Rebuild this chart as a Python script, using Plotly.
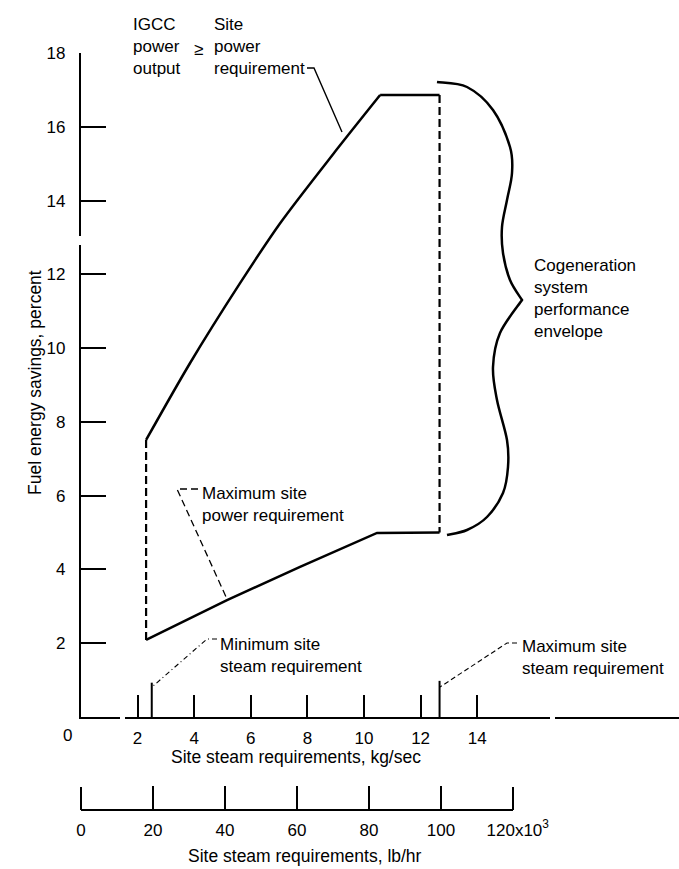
import plotly.graph_objects as go

# ---------------- data ----------------
upper_x = [2.30, 3.85, 5.62, 7.03, 8.90, 10.57, 12.67]
upper_y = [7.51, 9.59, 11.76, 13.38, 15.25, 16.86, 16.86]
lower_x = [2.30, 5.16, 7.74, 10.46, 12.67]
lower_y = [2.09, 3.17, 4.07, 4.99, 5.00]
min_steam_req = 2.5      # kg/sec
max_steam_req = 12.67    # kg/sec
min_marker_h = 0.93
max_marker_h = 0.98
kg_ticks = [2, 4, 6, 8, 10, 12, 14]
kg_labels = ["2", "4", "6", "8", "10", "12", "14"]
lb_ticks = [0, 20000, 40000, 60000, 80000, 100000, 120000]
lb_labels = ["0", "20", "40", "60", "80", "100", "\u2007120x10<sup>3</sup>"]
y_ticks = [2, 4, 6, 8, 10, 12, 14, 16, 18]
y_labels = ["2", "4", "6", "8", "10", "12", "14", "16", "18"]

# ---------------- layout geometry (pixels) ----------------
W, H = 679, 869
L, RE, TOP, Y0PX, BOT = 81, 679, 53, 717, 810
KX = 28.3
XMAX = (RE - L) / KX
KY = (Y0PX - TOP) / 18.0
YDOM0 = (BOT - Y0PX) / (BOT - TOP)
LB_END_PX = 513
LB_DOM = (LB_END_PX - L) / (RE - L)

FONT = "Liberation Sans, Arial, sans-serif"
FS = 17

def dx(px):
    return (px - L) / KX

def dy(py):
    return (Y0PX - py) / KY

def paper_x(px):
    return (px - L) / (RE - L)

def paper_y(py):
    return (BOT - py) / (BOT - TOP)

fig = go.Figure()

line_style = dict(color="black", width=2.5)
curve_style = dict(color="black", width=2.5, shape="spline", smoothing=0.8)
dash_style = dict(color="black", width=2.2, dash="8px,4px")

# upper boundary (curved part + flat top)
fig.add_trace(go.Scatter(x=upper_x[:-1], y=upper_y[:-1], mode="lines", line=curve_style,
                         hoverinfo="skip", showlegend=False))
fig.add_trace(go.Scatter(x=upper_x[-2:], y=upper_y[-2:], mode="lines", line=line_style,
                         hoverinfo="skip", showlegend=False))
# lower boundary
fig.add_trace(go.Scatter(x=lower_x, y=lower_y, mode="lines", line=line_style,
                         hoverinfo="skip", showlegend=False))
# dashed sides
fig.add_trace(go.Scatter(x=[upper_x[0], lower_x[0]], y=[upper_y[0], lower_y[0]],
                         mode="lines", line=dash_style, hoverinfo="skip", showlegend=False))
fig.add_trace(go.Scatter(x=[upper_x[-1], lower_x[-1]], y=[upper_y[-1], lower_y[-1]],
                         mode="lines", line=dash_style, hoverinfo="skip", showlegend=False))
# min / max site steam requirement markers on the axis
fig.add_trace(go.Scatter(x=[min_steam_req, min_steam_req], y=[0, min_marker_h], mode="lines",
                         line=dict(color="black", width=2), hoverinfo="skip", showlegend=False))
fig.add_trace(go.Scatter(x=[max_steam_req, max_steam_req], y=[0, max_marker_h], mode="lines",
                         line=dict(color="black", width=2), hoverinfo="skip", showlegend=False))
# invisible trace to carry the lb/hr axis
fig.add_trace(go.Scatter(x=lb_ticks, y=[-5] * len(lb_ticks), xaxis="x2", yaxis="y",
                         mode="lines", line=dict(color="rgba(0,0,0,0)", width=0),
                         hoverinfo="skip", showlegend=False))

# ---------------- decorations ----------------
def catmull(points):
    segs = []
    n = len(points)
    for i in range(n - 1):
        p0 = points[i - 1] if i > 0 else points[i]
        p1 = points[i]
        p2 = points[i + 1]
        p3 = points[i + 2] if i + 2 < n else points[i + 1]
        c1 = (p1[0] + (p2[0] - p0[0]) / 6, p1[1] + (p2[1] - p0[1]) / 6)
        c2 = (p2[0] - (p3[0] - p1[0]) / 6, p2[1] - (p3[1] - p1[1]) / 6)
        segs.append((c1, c2, p2))
    return segs

def brace_path(pts_top, pts_bot):
    s = "M %.4f,%.4f" % (dx(pts_top[0][0]), dy(pts_top[0][1]))
    for c1, c2, p in catmull(pts_top) + catmull(pts_bot):
        s += " C %.4f,%.4f %.4f,%.4f %.4f,%.4f" % (dx(c1[0]), dy(c1[1]), dx(c2[0]), dy(c2[1]), dx(p[0]), dy(p[1]))
    return s

brace_top = [(437, 82), (467, 87), (493, 110), (510, 147), (512, 173), (507, 200),
             (502, 227), (503, 253), (510, 280), (522, 300)]
brace_bot = [(522, 300), (500, 333), (493, 367), (497, 400), (507, 440), (508, 467),
             (503, 493), (487, 517), (467, 530), (447, 535)]

shapes = []
shapes.append(dict(type="path", xref="x", yref="y", path=brace_path(brace_top, brace_bot),
                   line=dict(color="black", width=2.5)))

def poly(pts, width=1.3, dash="solid"):
    p = "M %.4f,%.4f" % (dx(pts[0][0]), dy(pts[0][1]))
    for q in pts[1:]:
        p += " L %.4f,%.4f" % (dx(q[0]), dy(q[1]))
    return dict(type="path", xref="x", yref="y", path=p,
                line=dict(color="black", width=width, dash=dash))

# leaders
shapes.append(poly([(307, 68), (314, 68), (342, 132)], width=1.4))
shapes.append(poly([(198, 489), (177, 489), (227, 599)], width=1.3, dash="7px,4px"))
shapes.append(poly([(217, 639), (207, 639), (152, 687)], width=1.1, dash="5px,3px,1px,3px"))
shapes.append(poly([(517, 643), (507, 643), (440, 687)], width=1.1, dash="5px,3px"))

# end ticks of the lb/hr scale (plotly omits inside ticks at the range ends)
for v in (lb_ticks[0], lb_ticks[-1]):
    xp = LB_DOM * (v - lb_ticks[0]) / (lb_ticks[-1] - lb_ticks[0])
    shapes.append(dict(type="line", xref="paper", yref="paper", x0=xp, x1=xp,
                       y0=0, y1=23.0 / (BOT - TOP), line=dict(color="black", width=2)))

# small breaks in the axis lines (as in the original)
shapes.append(dict(type="line", xref="paper", yref="y", x0=0, x1=0, y0=dy(245), y1=dy(236),
                   line=dict(color="white", width=5)))
for a, b in [(120, 125), (550, 555)]:
    shapes.append(dict(type="line", xref="x", yref="paper", x0=dx(a), x1=dx(b),
                       y0=YDOM0, y1=YDOM0, line=dict(color="white", width=5)))

# ---------------- text ----------------
anns = []
def ann(text, px, py, xanchor="left", yanchor="middle", size=FS, angle=0, align="left"):
    anns.append(dict(text=text, x=paper_x(px), y=paper_y(py), xref="paper", yref="paper",
                     xanchor=xanchor, yanchor=yanchor, showarrow=False, align=align,
                     textangle=angle, font=dict(family=FONT, size=size, color="black")))

ann("IGCC<br>power<br>output", 131, 47)
ann("Site<br>power<br>requirement", 212, 47)
ann("≥", 198, 49, xanchor="center")
ann("Cogeneration<br>system<br>performance<br>envelope", 532, 298)
ann("Maximum site<br>power requirement", 200, 504)
ann("Minimum site<br>steam requirement", 218, 655)
ann("Maximum site<br>steam requirement", 520, 657)
ann("Fuel energy savings, percent", 35, 383, xanchor="center", angle=-90, size=17.5)
ann("0", 67, 735, xanchor="center")
ann("Site steam requirements, kg/sec", 296, 757, xanchor="center", size=17.5)
ann("Site steam requirements, lb/hr", 305, 856, xanchor="center", size=17.5)

axis_font = dict(family=FONT, size=FS, color="black")

fig.update_layout(
    width=W, height=H,
    margin=dict(l=L, r=W - RE, t=TOP, b=H - BOT, pad=0),
    paper_bgcolor="white", plot_bgcolor="rgba(0,0,0,0)",
    showlegend=False,
    shapes=shapes, annotations=anns,
    xaxis=dict(range=[0, XMAX], domain=[0, 1], anchor="y", showgrid=False, zeroline=False,
               showline=True, linecolor="black", linewidth=2.2,
               ticks="inside", ticklen=22, tickwidth=2, tickcolor="black",
               tickvals=kg_ticks, ticktext=kg_labels, tickfont=axis_font,
               ticklabelstandoff=4, automargin=False),
    xaxis2=dict(range=[lb_ticks[0], lb_ticks[-1]], domain=[0, LB_DOM], anchor="free",
                position=0, showgrid=False, zeroline=False,
                showline=True, linecolor="black", linewidth=2.2,
                ticks="inside", ticklen=23, tickwidth=2, tickcolor="black",
                tickvals=lb_ticks, ticktext=lb_labels, tickfont=axis_font,
                ticklabelstandoff=4, automargin=False),
    yaxis=dict(range=[0, 18], domain=[YDOM0, 1], anchor="x", showgrid=False, zeroline=False,
               showline=True, linecolor="black", linewidth=2.2,
               ticks="inside", ticklen=25, tickwidth=2, tickcolor="black",
               tickvals=y_ticks, ticktext=y_labels, tickfont=axis_font,
               ticklabelstandoff=10, automargin=False),
)

fig.write_html("out.html", config={"displayModeBar": False},
               post_script="document.body.style.margin='0px';document.body.style.overflow='hidden';")
